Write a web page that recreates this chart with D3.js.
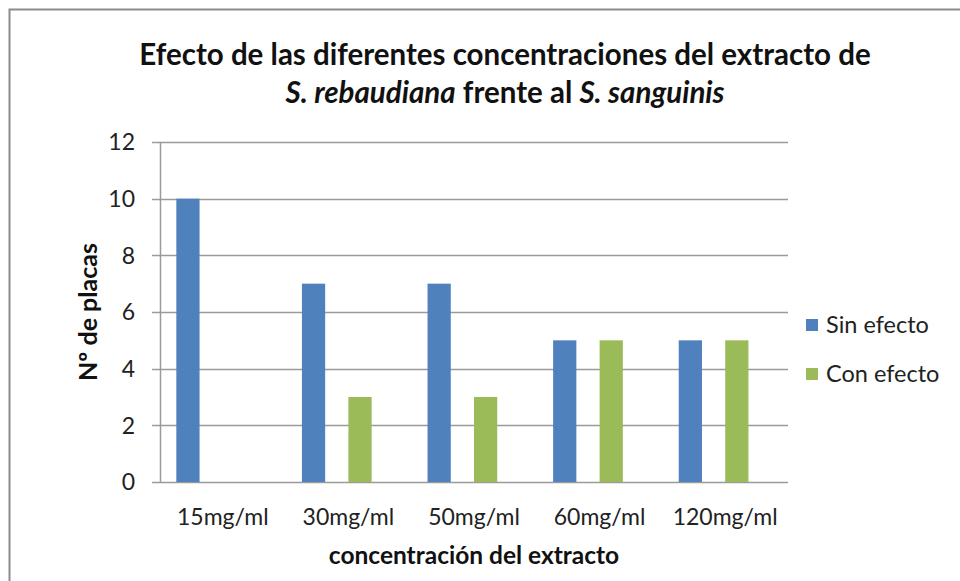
<!DOCTYPE html>
<html>
<head>
<meta charset="utf-8">
<script src="https://cdn.jsdelivr.net/npm/d3@7"></script>
<style>
  html, body { margin: 0; padding: 0; background: #fff; }
  svg { display: block; font-family: Lato, "Open Sans", sans-serif; }
</style>
</head>
<body>
<div id="chart"></div>
<script>
// chart values
const categories = ['15mg/ml', '30mg/ml', '50mg/ml', '60mg/ml', '120mg/ml'];
const seriesNames = ['Sin efecto', 'Con efecto'];
const sinEfecto = [10, 7, 7, 5, 5];
const conEfecto = [0, 3, 3, 5, 5];
const seriesColors = ['#4F81BD', '#9BBB59'];
const yMax = 12;

const width = 960;
const height = 581;
const plot = { left: 160, right: 788, top: 142, bottom: 482 };

const svg = d3.select('#chart').append('svg')
  .attr('width', width)
  .attr('height', height);

// chart area border
svg.append('rect')
  .attr('x', 9.5).attr('y', 9.5)
  .attr('width', width + 20).attr('height', height + 20)
  .attr('fill', '#fff')
  .attr('stroke', '#8c8c8c')
  .attr('stroke-width', 2);

const x = d3.scaleBand()
  .domain(categories)
  .range([plot.left, plot.right]);

const y = d3.scaleLinear()
  .domain([0, yMax])
  .range([plot.bottom, plot.top]);

// horizontal gridlines
svg.append('g')
  .selectAll('line')
  .data(y.ticks(6))
  .join('line')
  .attr('x1', plot.left - 8)
  .attr('x2', plot.right)
  .attr('y1', d => Math.round(y(d)) + 0.5)
  .attr('y2', d => Math.round(y(d)) + 0.5)
  .attr('stroke', '#9a9a9a')
  .attr('stroke-width', 1.5);

// y tick labels
svg.append('g')
  .selectAll('text')
  .data(y.ticks(6))
  .join('text')
  .attr('x', 135)
  .attr('y', d => y(d))
  .attr('dy', '0.36em')
  .attr('text-anchor', 'end')
  .attr('font-size', 23)
  .attr('fill', '#222')
  .text(d => d);

// vertical axis line
svg.append('line')
  .attr('x1', plot.left + 0.5).attr('x2', plot.left + 0.5)
  .attr('y1', plot.top).attr('y2', plot.bottom)
  .attr('stroke', '#9a9a9a')
  .attr('stroke-width', 1.5);

// bars: two series per category, second series starts at category centre
const rows = categories.map((c, i) => ({ cat: c, values: [sinEfecto[i], conEfecto[i]] }));
const barW = x.bandwidth() * 0.185;

const groups = svg.append('g')
  .selectAll('g.cat')
  .data(rows)
  .join('g')
  .attr('class', 'cat');

groups.selectAll('rect')
  .data(d => d.values.map((v, s) => ({ cat: d.cat, v, s })))
  .join('rect')
  .attr('x', d => x(d.cat) + x.bandwidth() / 2 + (d.s === 0 ? -2 * barW : 0))
  .attr('y', d => y(d.v))
  .attr('width', barW)
  .attr('height', d => y(0) - y(d.v))
  .attr('fill', d => seriesColors[d.s]);

// category labels
svg.append('g')
  .selectAll('text')
  .data(categories)
  .join('text')
  .attr('x', d => x(d) + x.bandwidth() / 2)
  .attr('y', 525)
  .attr('text-anchor', 'middle')
  .attr('font-size', 23)
  .attr('fill', '#222')
  .text(d => d);

// title
const title = svg.append('text')
  .attr('text-anchor', 'middle')
  .attr('font-size', 29.5)
  .attr('font-weight', 'bold')
  .attr('fill', '#111');
title.append('tspan')
  .attr('x', 505).attr('y', 65)
  .text('Efecto de las diferentes concentraciones  del extracto de');
const t2 = title.append('tspan').attr('x', 505).attr('y', 103);
t2.append('tspan').attr('font-style', 'italic').text('S. rebaudiana');
t2.append('tspan').text(' frente al ');
t2.append('tspan').attr('font-style', 'italic').text('S. sanguinis');

// axis titles
svg.append('text')
  .attr('transform', 'translate(97,312) rotate(-90)')
  .attr('text-anchor', 'middle')
  .attr('font-size', 25)
  .attr('font-weight', 'bold')
  .attr('fill', '#111')
  .text('Nº de placas');

svg.append('text')
  .attr('x', 474)
  .attr('y', 564)
  .attr('text-anchor', 'middle')
  .attr('font-size', 24.5)
  .attr('font-weight', 'bold')
  .attr('fill', '#111')
  .text('concentración del extracto');

// legend
const legend = svg.append('g')
  .selectAll('g')
  .data(seriesNames)
  .join('g')
  .attr('transform', (d, i) => `translate(806, ${319 + i * 49})`);
legend.append('rect')
  .attr('width', 12).attr('height', 12)
  .attr('fill', (d, i) => seriesColors[i]);
legend.append('text')
  .attr('x', 20).attr('y', 6)
  .attr('dy', '0.36em')
  .attr('font-size', 23.5)
  .attr('fill', '#222')
  .text(d => d);
</script>
</body>
</html>
